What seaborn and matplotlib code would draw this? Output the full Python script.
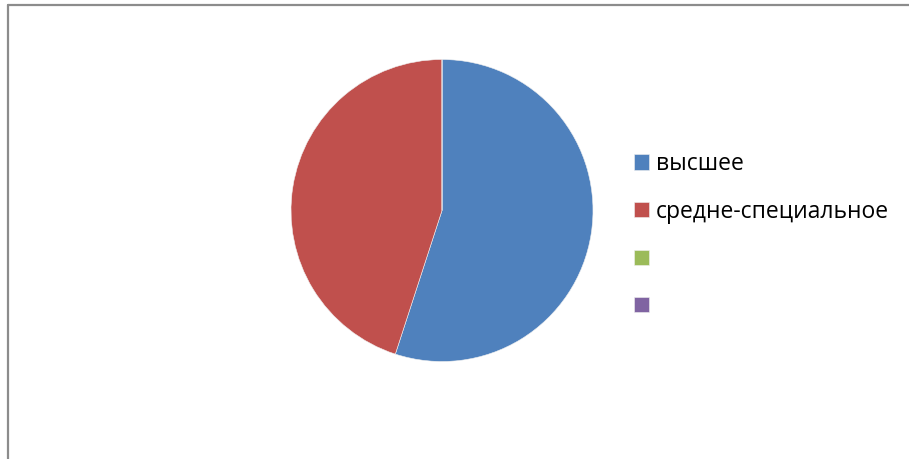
import matplotlib
matplotlib.use("Agg")
import matplotlib.pyplot as plt
from matplotlib.lines import Line2D
import seaborn as sns

# Data
categories = ['высшее', 'средне-специальное', '', '']
values = [55, 45, 0, 0]
colors = ['#4F81BD', '#C0504D', '#9BBB59', '#8064A2']

sns.set_theme(style='white')
plt.rcParams['font.family'] = ['Open Sans', 'DejaVu Sans']

W, H = 909, 459
fig = plt.figure(figsize=(W / 100, H / 100), dpi=100)
fig.patch.set_facecolor('white')

# pie axes: centre (442, 210.5) px from top-left, radius 151 px
cx, cy, r = 442, 210.5, 151
ax = fig.add_axes([(cx - r) / W, (H - cy - r) / H, 2 * r / W, 2 * r / H])
wedges, _ = ax.pie(values, colors=sns.color_palette(colors), startangle=90,
                   counterclock=False,
                   wedgeprops=dict(edgecolor='#f0f0f0', linewidth=0.4))
ax.set_xlim(-1, 1)
ax.set_ylim(-1, 1)
ax.set_aspect('equal')
ax.axis('off')

fs = 16.5
leg = fig.legend(wedges, categories, loc='upper left',
                 bbox_to_anchor=(634 / W, 1 - 152 / H),
                 frameon=False, fontsize=fs, borderpad=0, borderaxespad=0,
                 handlelength=0.65, handleheight=0.65, handletextpad=0.3,
                 labelspacing=1.03, labelcolor='black')

# chart border (cut at the right and bottom edge)
border = dict(color='#8c8c8c', linewidth=1.6, transform=fig.transFigure)
fig.add_artist(Line2D([8 / W, 1.01], [1 - 5 / H, 1 - 5 / H], **border))
fig.add_artist(Line2D([8 / W, 8 / W], [-0.01, 1 - 5 / H], **border))

fig.savefig('out.png', dpi=100)
